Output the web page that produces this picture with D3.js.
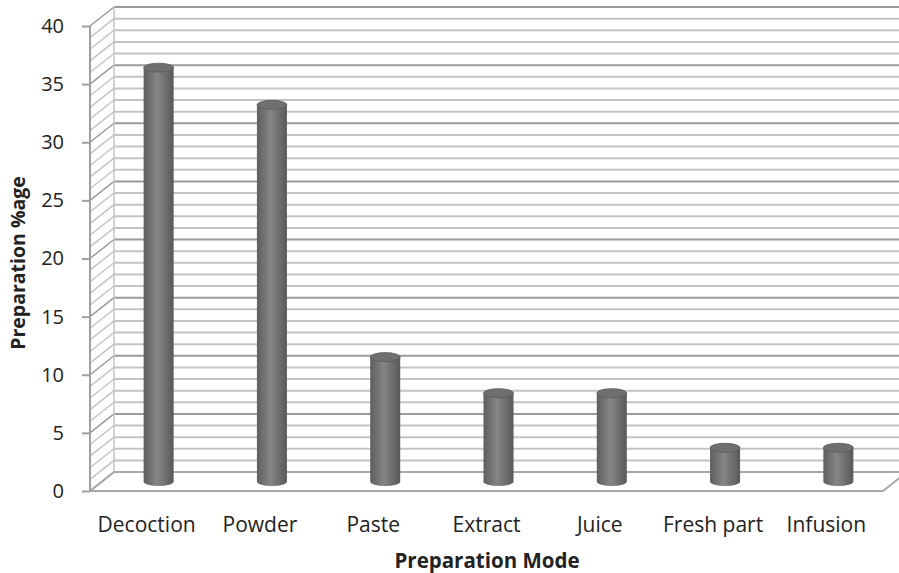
<!DOCTYPE html>
<html>
<head>
<meta charset="utf-8">
<script src="https://cdn.jsdelivr.net/npm/d3@7"></script>
<style>
  body { margin: 0; background: #fff; }
  svg { font-family: "Open Sans", "Noto Sans", sans-serif; }
</style>
</head>
<body>
<div id="graph"></div>
<script>
const categories = ["Decoction", "Powder", "Paste", "Extract", "Juice", "Fresh part", "Infusion"];
const values = [35.6, 32.4, 10.7, 7.6, 7.6, 2.9, 2.9];
const yTicks = [0, 5, 10, 15, 20, 25, 30, 35, 40];
const yTitle = "Preparation %age";
const xTitle = "Preparation Mode";

const width = 899, height = 573;
const dx = 24, dy = -19; // depth of the 3d box

const svg = d3.select("#graph").append("svg")
  .attr("width", width).attr("height", height);

const x = d3.scaleBand().domain(categories).range([90, 883]);
const y = d3.scaleLinear().domain([0, 40]).range([491, 26]);

const defs = svg.append("defs");
const grad = defs.append("linearGradient").attr("id", "cyl")
  .attr("x1", "0%").attr("x2", "100%").attr("y1", "0%").attr("y2", "0%");
grad.append("stop").attr("offset", "0%").attr("stop-color", "#5e5e5e");
grad.append("stop").attr("offset", "45%").attr("stop-color", "#858585");
grad.append("stop").attr("offset", "100%").attr("stop-color", "#595959");

// gridlines: every unit, darker every 5
const grid = d3.range(0, 41);
const g = svg.append("g");
const x0 = x.range()[0], x1 = x.range()[1];

g.selectAll("line.back").data(grid).join("line")
  .attr("x1", x0 + dx).attr("x2", width + 5)
  .attr("y1", d => y(d) + dy).attr("y2", d => y(d) + dy)
  .attr("stroke", d => d % 5 === 0 ? "#9a9a9a" : "#c4c4c4")
  .attr("stroke-width", 2);

g.selectAll("line.side").data(grid).join("line")
  .attr("x1", x0).attr("x2", x0 + dx)
  .attr("y1", d => y(d)).attr("y2", d => y(d) + dy)
  .attr("stroke", d => d % 5 === 0 ? "#9a9a9a" : "#c4c4c4")
  .attr("stroke-width", 1.5);

// back wall left edge
g.append("line").attr("x1", x0 + dx).attr("x2", x0 + dx)
  .attr("y1", y(40) + dy).attr("y2", y(0) + dy)
  .attr("stroke", "#c4c4c4").attr("stroke-width", 1.5);

// floor
g.append("path")
  .attr("d", `M${x0},${y(0)}L${x1},${y(0)}L${x1 + dx},${y(0) + dy}L${x0 + dx},${y(0) + dy}Z`)
  .attr("fill", "none").attr("stroke", "#a8a8a8").attr("stroke-width", 2);

// front y axis line
g.append("line").attr("x1", x0).attr("x2", x0)
  .attr("y1", y(40)).attr("y2", y(0))
  .attr("stroke", "#a0a0a0").attr("stroke-width", 2);

const yAxis = d3.axisLeft(y).tickValues(yTicks).tickSize(8).tickPadding(18);
const ya = svg.append("g").attr("transform", `translate(${x0},0)`).call(yAxis);
ya.select(".domain").remove();
ya.selectAll(".tick line").attr("stroke", "#a0a0a0").attr("stroke-width", 2);
ya.selectAll(".tick text").attr("font-size", 20).attr("fill", "#222")
  .attr("font-family", "Open Sans");

// cylinders
const rx = 15, ry = 4.5;
const bars = svg.append("g").selectAll("g").data(categories).join("g")
  .attr("transform", d => `translate(${x(d) + x.bandwidth() / 2 + dx / 2},${dy / 2})`);

bars.append("path")
  .attr("d", (d, i) => {
    const top = y(values[i]), base = y(0);
    return `M${-rx},${top}L${-rx},${base}A${rx},${ry} 0 0 0 ${rx},${base}L${rx},${top}Z`;
  })
  .attr("fill", "url(#cyl)");

bars.append("ellipse")
  .attr("cx", 0).attr("cy", (d, i) => y(values[i]))
  .attr("rx", rx).attr("ry", ry)
  .attr("fill", "#6f6f6f").attr("stroke", "#5a5a5a").attr("stroke-width", 0.8);

// category labels
svg.append("g").selectAll("text").data(categories).join("text")
  .attr("x", d => x(d) + x.bandwidth() / 2)
  .attr("y", 532)
  .attr("text-anchor", "middle")
  .attr("font-size", 21).attr("fill", "#222")
  .text(d => d);

svg.append("text")
  .attr("x", 487).attr("y", 568)
  .attr("text-anchor", "middle")
  .attr("font-size", 20.5).attr("font-weight", "bold").attr("fill", "#222")
  .text(xTitle);

svg.append("text")
  .attr("transform", "translate(25,263) rotate(-90)")
  .attr("text-anchor", "middle")
  .attr("font-size", 19.5).attr("font-weight", "bold").attr("fill", "#222")
  .text(yTitle);
</script>
</body>
</html>
